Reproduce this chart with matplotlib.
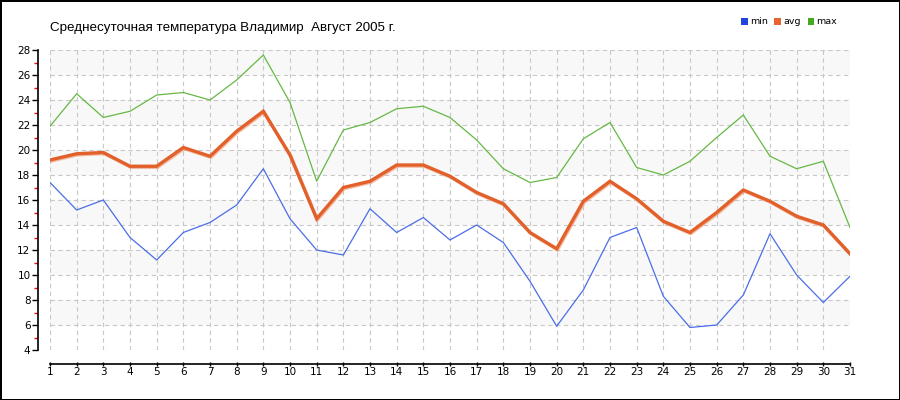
import matplotlib
matplotlib.use("Agg")
import matplotlib.pyplot as plt
from matplotlib.patches import Patch
import matplotlib.patheffects as pe

days = list(range(1, 32))
t_min = [17.4, 15.2, 16.0, 13.0, 11.2, 13.4, 14.2, 15.6, 18.5, 14.5,
         12.0, 11.6, 15.3, 13.4, 14.6, 12.8, 14.0, 12.6, 9.5, 5.9,
         8.8, 13.0, 13.8, 8.3, 5.8, 6.0, 8.4, 13.3, 10.0, 7.8, 9.9]
t_avg = [19.2, 19.7, 19.8, 18.7, 18.7, 20.2, 19.5, 21.5, 23.1, 19.6,
         14.5, 17.0, 17.5, 18.8, 18.8, 17.9, 16.6, 15.7, 13.4, 12.1,
         15.9, 17.5, 16.1, 14.3, 13.4, 15.0, 16.8, 15.9, 14.7, 14.0, 11.7]
t_max = [21.9, 24.5, 22.6, 23.1, 24.4, 24.6, 24.0, 25.6, 27.6, 23.8,
         17.5, 21.6, 22.2, 23.3, 23.5, 22.6, 20.8, 18.5, 17.4, 17.8,
         20.9, 22.2, 18.6, 18.0, 19.1, 21.0, 22.8, 19.5, 18.5, 19.1, 13.8]
series_names = ["min", "avg", "max"]
title = "Среднесуточная температура Владимир  Август 2005 г."

W, H = 900, 400
fig = plt.figure(figsize=(9, 4), dpi=100)
fig.patch.set_facecolor("white")
fig.patch.set_edgecolor("black")
fig.patch.set_linewidth(2.0)

ax = fig.add_axes([50 / W, (H - 350) / H, 800 / W, 300 / H])
ax.set_xlim(1, 31)
ax.set_ylim(4, 28)
ax.set_facecolor("white")

for lo in range(6, 28, 4):
    ax.axhspan(lo, lo + 2, color="#f8f8f8", zorder=0, lw=0)

ax.set_xticks(days)
ax.set_yticks(range(4, 29, 2))
ax.set_yticks(range(5, 28, 2), minor=True)
ax.grid(True, which="major", color="#c8c8c8", linestyle=(0, (4, 3)), linewidth=0.8, zorder=1)
ax.set_axisbelow(True)

ax.plot(days, t_min, color="#4a6ee6", lw=0.9, zorder=3)
ax.plot(days, t_max, color="#66b844", lw=0.9, zorder=3)
ax.plot(days, t_avg, color="#e2602a", lw=2.4, zorder=4,
        solid_joinstyle="miter",
        path_effects=[pe.SimpleLineShadow(offset=(0.6, -0.8), shadow_color="#f2a07c", alpha=0.7),
                      pe.Normal()])

for s in ["top", "right"]:
    ax.spines[s].set_visible(False)
ax.spines["left"].set_position(("outward", 9))
ax.spines["bottom"].set_position(("outward", 10))
ax.spines["left"].set_linewidth(1.2)
ax.spines["bottom"].set_linewidth(1.2)

ax.tick_params(axis="y", which="major", length=4, width=1, direction="out", labelsize=7.5, pad=1)
ax.tick_params(axis="y", which="minor", length=3, width=1, color="red", direction="out")
ax.tick_params(axis="x", which="major", length=3, width=1, direction="inout", labelsize=7.5, pad=1)
for lbl in ax.get_xticklabels() + ax.get_yticklabels():
    lbl.set_family("DejaVu Sans")

fig.text(50 / W, 1 - 28 / H, title, fontsize=9.6, family="Liberation Sans", va="center", ha="left")

handles = [Patch(facecolor=c, edgecolor="none") for c in ["#2244dd", "#e8652f", "#44aa22"]]
fig.legend(handles, series_names, loc="center right", bbox_to_anchor=(842 / W, 1 - 22 / H),
           ncol=3, frameon=False, fontsize=6.8, handlelength=0.7, handleheight=0.7,
           handletextpad=0.25, columnspacing=0.7, borderpad=0)

fig.savefig("out.png", dpi=100)
